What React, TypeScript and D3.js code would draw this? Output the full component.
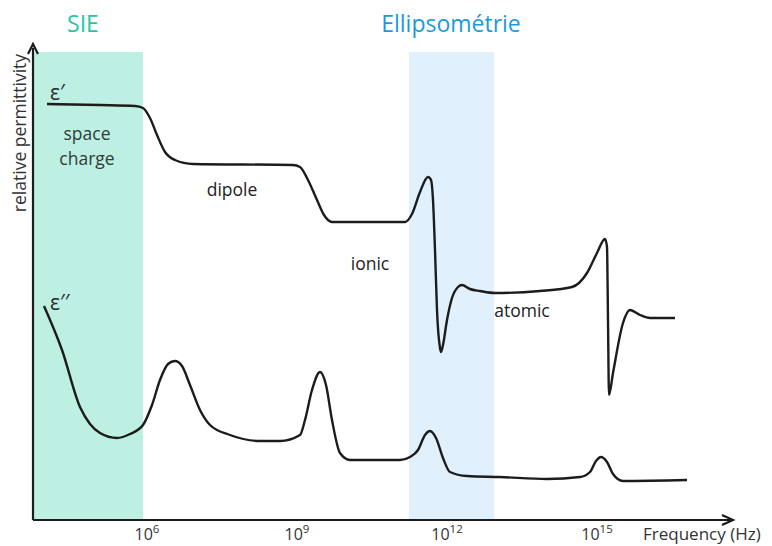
import React from "react";
import * as d3 from "d3";

// frequency expressed as log10(Hz); values in arbitrary relative-permittivity units
const epsPrimeLogF = [4.08, 5.14, 5.84, 6.0, 6.14, 6.28, 6.44, 6.64, 7.0, 9.0, 9.14, 9.3, 9.48, 9.62, 9.78, 11.24, 11.38, 11.54, 11.7, 11.76, 11.8, 11.84, 11.88, 11.94, 11.96, 12.0, 12.08, 12.18, 12.3, 12.38, 12.54, 12.74, 13.04, 13.94, 14.58, 14.88, 15.08, 15.24, 15.28, 15.3, 15.32, 15.4, 15.6, 15.74, 15.94, 16.14, 16.64];
const epsPrimeVal = [416, 415, 414, 412, 402, 385, 368, 360, 356, 355, 353, 340, 320, 305, 298, 298, 306, 328, 343, 340, 320, 270, 210, 172, 168, 175, 200, 222, 233, 235, 231, 229, 227, 229, 233, 247, 267, 281, 273, 200, 125, 147, 197, 210, 205, 202, 202];

const epsSecondLogF = [4.02, 4.38, 4.74, 4.94, 5.14, 5.48, 5.74, 6.0, 6.18, 6.34, 6.5, 6.64, 6.78, 6.94, 7.14, 7.34, 7.74, 8.34, 8.74, 9.14, 9.24, 9.38, 9.54, 9.66, 9.78, 9.94, 10.14, 11.14, 11.34, 11.5, 11.64, 11.74, 11.86, 12.0, 12.14, 12.48, 13.14, 14.08, 14.74, 14.94, 15.06, 15.16, 15.28, 15.4, 15.6, 16.88];
const epsSecondVal = [214, 170, 113, 96, 87, 82, 86, 95, 115, 140, 156, 159, 154, 135, 110, 95, 85, 79, 79, 85, 100, 130, 148, 135, 100, 67, 60, 60, 63, 70, 85, 89, 82, 62, 48, 44, 43, 41, 43, 48, 59, 63, 58, 46, 39, 40];

const tickExponents = [6, 9, 12, 15];
const bandSIE = [3.8, 6.0];
const bandEllipso = [11.32, 13.02];

const W = 772;
const H = 546;

export default function App() {
  const x = d3.scaleLinear().domain([3.8, 17.8]).range([33, 733]);
  const y = d3.scaleLinear().domain([0, 475]).range([520, 45]);

  const line = d3
    .line<[number, number]>()
    .x((d) => x(d[0]))
    .y((d) => y(d[1]))
    .curve(d3.curveMonotoneX);

  const p1 = line(epsPrimeLogF.map((f, i) => [f, epsPrimeVal[i]] as [number, number])) || "";
  const p2 = line(epsSecondLogF.map((f, i) => [f, epsSecondVal[i]] as [number, number])) || "";

  const font = "'Open Sans', Lato, sans-serif";
  const bandTop = y(468);
  const bandBottom = y(0);

  return (
    <svg
      width={W}
      height={H}
      style={{ position: "absolute", left: 0, top: 0, background: "#fff" }}
      fontFamily={font}
    >
      <rect
        x={x(bandSIE[0])}
        y={bandTop}
        width={x(bandSIE[1]) - x(bandSIE[0])}
        height={bandBottom - bandTop}
        fill="#bdf0e2"
      />
      <rect
        x={x(bandEllipso[0])}
        y={bandTop}
        width={x(bandEllipso[1]) - x(bandEllipso[0])}
        height={bandBottom - bandTop}
        fill="#e1f0fd"
      />

      <text x={83} y={32} textAnchor="middle" fontSize={23} fill="#1fc9a4">SIE</text>
      <text x={451} y={32} textAnchor="middle" fontSize={23} fill="#1a9bd7">Ellipsométrie</text>

      <path d={p1} fill="none" stroke="#1c1c1c" strokeWidth={2.4} strokeLinejoin="round" />
      <path d={p2} fill="none" stroke="#1c1c1c" strokeWidth={2.4} strokeLinejoin="round" />

      {/* axes */}
      <line x1={x(3.8)} y1={y(0)} x2={x(3.8)} y2={y(472)} stroke="#1c1c1c" strokeWidth={2.2} />
      <path
        d={`M${x(3.8) - 5},${y(466)} L${x(3.8)},${y(476)} L${x(3.8) + 5},${y(466)}`}
        fill="none"
        stroke="#1c1c1c"
        strokeWidth={2.2}
      />
      <line x1={x(3.8)} y1={y(0)} x2={x(17.78)} y2={y(0)} stroke="#1c1c1c" strokeWidth={2.2} />
      <path
        d={`M${x(17.58)},${y(0) - 5} L${x(17.8)},${y(0)} L${x(17.58)},${y(0) + 5}`}
        fill="none"
        stroke="#1c1c1c"
        strokeWidth={2.2}
      />

      {tickExponents.map((e) => (
        <text key={e} x={x(e) + 4} y={540} textAnchor="middle" fontSize={16} fill="#333">
          10
          <tspan dy={-7} fontSize={11.5}>{e}</tspan>
        </text>
      ))}
      <text x={643} y={540} fontSize={17} fill="#333">Frequency (Hz)</text>

      <text
        transform={`translate(26,${y(387)}) rotate(-90)`}
        textAnchor="middle"
        fontSize={17.5}
        fill="#333"
      >
        relative permittivity
      </text>

      <text x={50} y={100} fontSize={21} fill="#2a2a2a">ε′</text>
      <text x={50} y={310} fontSize={21} fill="#2a2a2a">ε′′</text>

      <text x={87} y={140} textAnchor="middle" fontSize={17.5} fill="#2f3b38">space</text>
      <text x={87} y={165} textAnchor="middle" fontSize={17.5} fill="#2f3b38">charge</text>
      <text x={232} y={196} textAnchor="middle" fontSize={17.5} fill="#222">dipole</text>
      <text x={370} y={270} textAnchor="middle" fontSize={17.5} fill="#222">ionic</text>
      <text x={522} y={317} textAnchor="middle" fontSize={17.5} fill="#222">atomic</text>
    </svg>
  );
}
